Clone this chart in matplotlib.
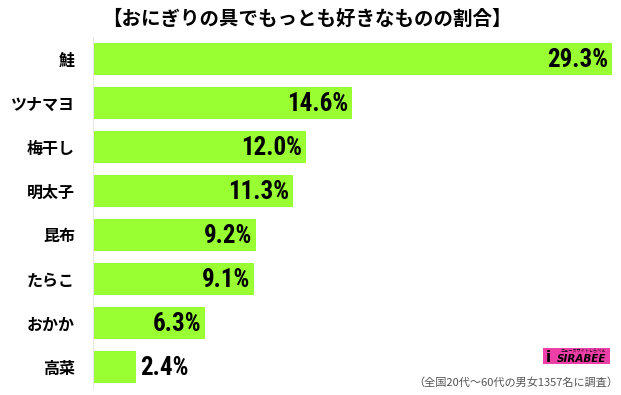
import matplotlib
matplotlib.use("Agg")
import matplotlib.pyplot as plt
from matplotlib.patches import Rectangle
from matplotlib import font_manager as fm

plt.rcParams['font.family'] = ['Noto Sans CJK JP', 'DejaVu Sans']

title = "【おにぎりの具でもっとも好きなものの割合】"
categories = ["鮭", "ツナマヨ", "梅干し", "明太子", "昆布", "たらこ", "おかか", "高菜"]
values = [29.3, 14.6, 12.0, 11.3, 9.2, 9.1, 6.3, 2.4]
value_labels = ["29.3%", "14.6%", "12.0%", "11.3%", "9.2%", "9.1%", "6.3%", "2.4%"]
footnote = "（全国20代～60代の男女1357名に調査）"
logo_text = "SIRABEE"
logo_sub = "ニュースサイトしらべぇ"

available = set(f.name for f in fm.fontManager.ttflist)
narrow = next((n for n in ['Liberation Sans Narrow', 'Arial Narrow', 'Roboto Condensed',
                           'Archivo Narrow', 'Asap Condensed', 'Liberation Sans']
               if n in available), 'DejaVu Sans')
num_font = [narrow, 'DejaVu Sans']

W, H = 621, 395
fig = plt.figure(figsize=(W/100, H/100), dpi=100)
ax = fig.add_axes([93/W, 1-389/H, (612-93)/W, 352/H])

y = list(range(len(categories)))
ax.barh(y, values, height=0.73, color="#99ff33", zorder=2)
ax.set_xlim(0, values[0])
ax.set_ylim(len(categories)-0.5, -0.5)
ax.set_yticks(y)
ax.set_yticklabels(categories, fontsize=11.5, fontweight='bold')
ax.tick_params(axis='y', length=0, pad=13)
ax.set_xticks([])
for s in ['top', 'right', 'bottom']:
    ax.spines[s].set_visible(False)
ax.spines['left'].set_color('#e6e6e6')
ax.spines['left'].set_linewidth(0.8)

for i, (v, lab) in enumerate(zip(values, value_labels)):
    if v > 4:
        ax.text(v - 0.2, i + 0.03, lab, ha='right', va='center', fontsize=18,
                fontweight='bold', family=num_font, zorder=3)
    else:
        ax.text(v + 0.25, i + 0.03, lab, ha='left', va='center', fontsize=18,
                fontweight='bold', family=num_font, zorder=3)

fig.text(307/W, 1-19/H, title, ha='center', va='center', fontsize=14, fontweight='bold')

# logo
fig.patches.append(Rectangle((543/W, 1-364/H), 67/W, 16/H, transform=fig.transFigure,
                             facecolor="#ee3fa8", edgecolor='none', zorder=5))
fig.text(548/W, 1-357/H, "i", ha='center', va='center', fontsize=11,
         fontweight='bold', family=['DejaVu Sans'], zorder=6)
fig.text(606/W, 1-359/H, logo_text, ha='right', va='center', fontsize=7.5,
         fontweight='bold', style='italic', family=['DejaVu Sans'], zorder=6)
fig.text(606/W, 1-351.5/H, logo_sub, ha='right', va='center', fontsize=3,
         zorder=6)

fig.text(618/W, 1-383/H, footnote, ha='right', va='center', fontsize=8, color='#555555')

fig.savefig("out.png", dpi=100)
